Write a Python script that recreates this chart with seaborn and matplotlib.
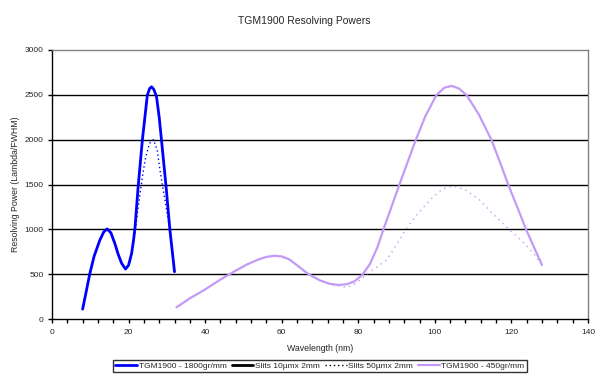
import matplotlib
matplotlib.use("Agg")
import matplotlib.pyplot as plt
import seaborn as sns
from matplotlib.lines import Line2D
from matplotlib.ticker import MultipleLocator

# ---- data ----
hi_x = [8, 9, 9.9, 11, 12.5, 13.5, 14.4, 15.4, 16.4, 17.3, 18.2, 19.2, 20, 20.8, 21.3, 21.7, 22.5, 23.6,
        24.9, 25.5, 26, 26.6, 27.3, 28, 28.6, 29.8, 30.8, 31.4, 32]
hi_solid = [110, 320, 510, 700, 880, 970, 1005, 960, 844, 720, 620, 557, 600, 732, 880, 1029, 1475, 1995,
            2497, 2570, 2590, 2560, 2478, 2250, 1995, 1475, 992, 760, 527]
hi_dot_x = [8, 9, 9.9, 11, 12.5, 13.5, 14.4, 15.4, 16.4, 17.3, 18.2, 19.2, 20, 20.8, 21.3, 21.7, 22.3, 23,
            23.8, 24.5, 25.5, 26.5, 27.5, 28.2, 29, 29.8, 30.8, 31.4, 32]
hi_dot = [110, 320, 510, 700, 880, 970, 1005, 960, 844, 720, 620, 557, 600, 732, 860, 960, 1180, 1400,
          1640, 1810, 1960, 2000, 1880, 1661, 1450, 1252, 992, 760, 527]

lo_x = [32.5, 36, 40, 44, 48, 51, 54, 56, 58, 60, 62, 64.7, 67, 70, 72.5, 74.8, 77, 79, 81, 83, 85, 86.5,
        88.5, 90.6, 92.8, 95, 97.5, 100.4, 102.5, 104.4, 106.3, 108.3, 111.5, 114.8, 117, 119.3, 121.6,
        123.9, 126, 128]
lo_solid = [130, 230, 330, 440, 540, 610, 665, 692, 705, 698, 665, 576, 500, 430, 393, 379, 388, 420, 490,
            610, 800, 992, 1230, 1483, 1740, 1995, 2260, 2497, 2580, 2600, 2570, 2497, 2280, 1995, 1750,
            1483, 1240, 992, 790, 602]
lo_dot_x = [32.5, 36, 40, 44, 48, 51, 54, 56, 58, 60, 62, 64.7, 67, 70, 72.5, 74.8, 76.9, 78.5, 80, 81.5,
            83.5, 85.5, 87.4, 90, 92.6, 96, 99.6, 102, 104.8, 108, 111.7, 115, 119.1, 121.5, 123.9, 126, 127.6]
lo_dot = [130, 230, 330, 440, 540, 610, 665, 692, 705, 698, 665, 576, 500, 430, 390, 370, 353, 375, 420, 470,
          540, 600, 658, 830, 1011, 1200, 1364, 1450, 1483, 1440, 1327, 1180, 1011, 920, 820, 720, 621]

legend_labels = ["TGM1900 - 1800gr/mm", "Slits 10µmx 2mm", "Slits 50µmx 2mm", "TGM1900 - 450gr/mm"]
title = "TGM1900 Resolving Powers"
xlabel = "Wavelength (nm)"
ylabel = "Resolving Power (Lambda/FWHM)"

BLUE = "#0000FF"
PURPLE = "#C49AF8"

sns.set_style("white")
plt.rcParams["font.family"] = ["Liberation Sans", "DejaVu Sans"]

fig = plt.figure(figsize=(6.08, 3.80), dpi=100)
ax = fig.add_axes([52 / 608, 1 - 319 / 380, (588 - 52) / 608, (319 - 50) / 380])

sns.lineplot(x=hi_dot_x, y=hi_dot, ax=ax, color=BLUE, lw=1.0, linestyle=(0, (1, 2)), sort=False, estimator=None)
sns.lineplot(x=hi_x, y=hi_solid, ax=ax, color=BLUE, lw=2.0, sort=False, estimator=None)
sns.lineplot(x=lo_dot_x, y=lo_dot, ax=ax, color=PURPLE, lw=1.0, linestyle=(0, (1, 3)), sort=False, estimator=None)
sns.lineplot(x=lo_x, y=lo_solid, ax=ax, color=PURPLE, lw=1.6, sort=False, estimator=None)

ax.set_xlim(0, 140)
ax.set_ylim(0, 3000)
ax.xaxis.set_major_locator(MultipleLocator(20))
ax.xaxis.set_minor_locator(MultipleLocator(4))
ax.yaxis.set_major_locator(MultipleLocator(500))
for yv in range(500, 3000, 500):
    ax.axhline(yv, color="black", lw=1.0, zorder=0)

for s in ["left", "bottom"]:
    ax.spines[s].set_color("black")
    ax.spines[s].set_linewidth(1.0)
for s in ["top", "right"]:
    ax.spines[s].set_color("#808080")
    ax.spines[s].set_linewidth(1.0)

ax.tick_params(axis="both", which="both", direction="out", length=3, width=1, color="black",
               labelsize=6)
ax.tick_params(axis="y", pad=3)
ax.tick_params(axis="x", pad=4)
ax.tick_params(axis="x", which="minor", length=3)
ax.tick_params(axis="x", which="both", bottom=True)
ax.tick_params(axis="y", which="both", left=True)

ax.set_xlabel(xlabel, fontsize=6.3, labelpad=6)
ax.set_ylabel(ylabel, fontsize=6.3, labelpad=3)
fig.text(0.5, 0.945, title, ha="center", va="center", fontsize=7.5)

handles = [
    Line2D([], [], color=BLUE, lw=2.0),
    Line2D([], [], color="black", lw=2.0),
    Line2D([], [], color="black", lw=1.0, linestyle=(0, (1, 2))),
    Line2D([], [], color=PURPLE, lw=1.6),
]
leg = fig.legend(handles, legend_labels, loc="center", bbox_to_anchor=(320 / 608, 1 - 366 / 380), ncol=4,
                 fontsize=6, frameon=True, fancybox=False, edgecolor="black", handlelength=2.6,
                 handletextpad=0.2, columnspacing=0.6, borderpad=0.25)
leg.get_frame().set_linewidth(1.0)

fig.savefig("out.png", dpi=100)
